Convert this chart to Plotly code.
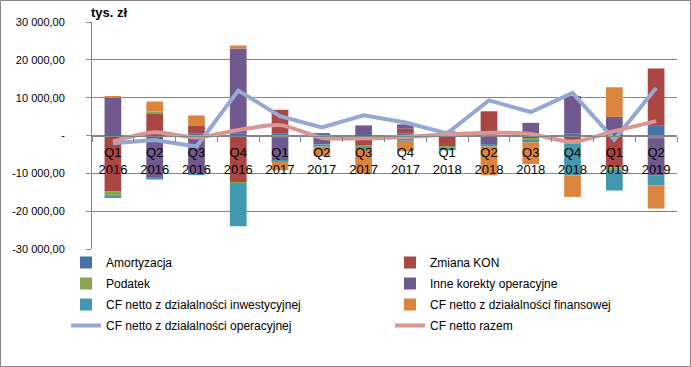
import plotly.graph_objects as go

categories = ["Q1<br>2016", "Q2<br>2016", "Q3<br>2016", "Q4<br>2016",
              "Q1<br>2017", "Q2<br>2017", "Q3<br>2017", "Q4<br>2017",
              "Q1<br>2018", "Q2<br>2018", "Q3<br>2018", "Q4<br>2018",
              "Q1<br>2019", "Q2<br>2019"]

amortyzacja = [300, 200, 600, 600, 600, 650, 400, 500, 650, 300, 500, 600, 400, 2740]
zmiana_kon = [-14700, 5670, 2090, -12350, 6190, 0, -2530, 1300, -3000, 6100, -900, -1600, -8430, 14960]
podatek = [-1300, 500, -200, -300, -440, -440, -440, -500, -500, -400, -500, -600, -630, -700]
inne_korekty = [9660, -11200, -9900, 22400, -6270, -1900, 2270, 1150, 0, -1950, 2840, 9840, 4520, -9920]
cf_inwestycyjna = [-520, -450, -370, -11330, -200, -600, -600, -900, -400, -500, -400, -8360, -5480, -2610]
cf_finansowa = [450, 2610, 2610, 780, -2300, -2450, -6350, -2800, 600, -7650, -5740, -5670, 7830, -6080]
cf_operacyjna = [-2040, -1170, -2920, 11880, 5090, 2140, 5350, 3450, 570, 9270, 6210, 11280, -1100, 12580]
cf_razem = [-1620, 830, -500, 1440, 2740, -570, -730, -390, 250, 730, 400, -1620, 1170, 3790]

y_tickvals = [30000, 20000, 10000, 0, -10000, -20000, -30000]
y_ticktext = ["30 000,00", "20 000,00", "10 000,00", "-", "-10 000,00", "-20 000,00", "-30 000,00"]

bar_series = [
    ("Amortyzacja", amortyzacja, "#4572A7", "legend"),
    ("Zmiana KON", zmiana_kon, "#AA4643", "legend2"),
    ("Podatek", podatek, "#89A54E", "legend"),
    ("Inne korekty operacyjne", inne_korekty, "#71588F", "legend2"),
    ("CF netto z działalności inwestycyjnej", cf_inwestycyjna, "#4198AF", "legend"),
    ("CF netto z działalności finansowej", cf_finansowa, "#DB843D", "legend2"),
]

fig = go.Figure()
for i, (name, vals, color, lg) in enumerate(bar_series):
    fig.add_trace(go.Bar(x=categories, y=vals, name=name, marker_color=color,
                         marker_line_width=0, legend=lg, legendgroup=name))

fig.add_trace(go.Scatter(x=categories, y=cf_operacyjna, name="CF netto z działalności operacyjnej",
                         mode="lines", line=dict(color="#93A9D3", width=4),
                         legend="legend", legendgroup="oper"))
fig.add_trace(go.Scatter(x=categories, y=cf_razem, name="CF netto razem",
                         mode="lines", line=dict(color="#D99694", width=4, shape="spline", smoothing=0.8),
                         legend="legend2", legendgroup="razem"))

W, H = 691, 367
L, R, T, B = 92, 14, 22, 118
pw, ph = W - L - R, H - T - B

def px2x(px):
    return (px - L) / pw

def py2y(py):
    return (H - B - py) / ph

font_family = "Liberation Sans, Arial, sans-serif"

fig.update_layout(
    width=W, height=H,
    margin=dict(l=L, r=R, t=T, b=B),
    paper_bgcolor="white", plot_bgcolor="white",
    barmode="relative", bargap=0.6,
    font=dict(family=font_family, size=12, color="#000000"),
    xaxis=dict(anchor="free", position=0.5, showline=True, linecolor="#868686", linewidth=1,
               ticks="outside", tickson="boundaries", ticklen=5, tickcolor="#868686",
               tickfont=dict(size=13), ticklabelstandoff=5, showgrid=False, fixedrange=True),
    yaxis=dict(range=[-30000, 30000], tickvals=y_tickvals, ticktext=y_ticktext,
               showgrid=True, gridcolor="#868686", gridwidth=1, zeroline=False,
               showline=True, linecolor="#868686", linewidth=1,
               ticks="outside", ticklen=5, tickcolor="#868686",
               tickfont=dict(size=11), ticklabelstandoff=19),
    legend=dict(x=px2x(66), y=py2y(248), xanchor="left", yanchor="top",
                orientation="v", tracegroupgap=2, font=dict(size=12),
                bgcolor="rgba(0,0,0,0)", itemwidth=30),
    legend2=dict(x=px2x(390), y=py2y(248), xanchor="left", yanchor="top",
                 orientation="v", tracegroupgap=2, font=dict(size=12),
                 bgcolor="rgba(0,0,0,0)", itemwidth=30),
    showlegend=True,
)

fig.add_annotation(text="<b>tys. zł</b>", xref="paper", yref="paper",
                   x=px2x(89), y=py2y(12), xanchor="left", yanchor="middle",
                   showarrow=False, font=dict(size=13))

fig.add_shape(type="rect", xref="paper", yref="paper",
              x0=px2x(0.5), x1=px2x(690.5), y0=py2y(366.5), y1=py2y(0.5),
              line=dict(color="#868686", width=1), layer="below")

fig.write_html("out.html", config={"displayModeBar": False},
               post_script="document.body.style.margin='0';document.body.style.overflow='hidden';")
